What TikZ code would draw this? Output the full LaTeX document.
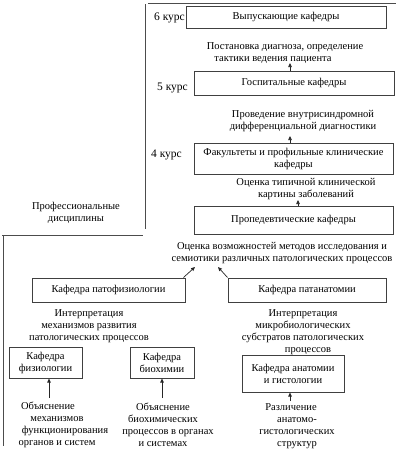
\documentclass[tikz,border=0pt]{standalone}
\usepackage{fontspec}
\setmainfont{Liberation Serif}
\usetikzlibrary{arrows.meta}
\begin{document}
\begin{tikzpicture}[x=1pt,y=-1pt,
  every node/.style={font=\fontsize{10.5}{12}\selectfont, inner sep=0pt},
  box/.style={draw=black!75, line width=1pt, align=center},
  lbl/.style={align=center},
  kurs/.style={anchor=east, font=\fontsize{11.5}{13}\selectfont},
  frame/.style={draw=black!70, line width=1pt},
  arr/.style={draw=black!85, line width=0.7pt, -{Triangle[length=4pt,width=3.5pt]}}]
\useasboundingbox (0,0) rectangle (402,450);

% frame lines
\draw[frame] (148,3) -- (396,3);
\draw[frame] (145,4) -- (145,229);
\draw[frame] (2,235) -- (143,235);
\draw[frame] (3,235) -- (3,446);

% boxes
\node[box, minimum width=200pt, minimum height=22pt] (vyp) at (286,17) {Выпускающие кафедры};
\node[box, minimum width=200pt, minimum height=24pt] (gosp) at (294,83) {Госпитальные кафедры};
\node[box, minimum width=199pt, minimum height=31pt] (fak) at (293.5,158.5) {Факультеты и профильные клинические\\кафедры};
\node[box, minimum width=199pt, minimum height=28pt] (prop) at (293.5,220) {\raisebox{1.5pt}{Пропедевтические кафедры}};
\node[box, minimum width=153pt, minimum height=24pt] (patfiz) at (108.5,290) {Кафедра патофизиологии};
\node[box, minimum width=158pt, minimum height=24pt] (patan) at (307,290) {Кафедра патанатомии};
\node[box, minimum width=73pt, minimum height=31pt] (fiz) at (45.5,362.5) {Кафедра\\физиологии};
\node[box, minimum width=64pt, minimum height=31pt] (bio) at (162,362.5) {Кафедра\\биохимии};
\node[box, minimum width=102pt, minimum height=37pt] (anat) at (293,373.5) {Кафедра анатомии\\и гистологии};

% course labels
\node[kurs] (k6) at (185,18) {6 курс};
\node[kurs] (k5) at (188,88) {5 курс};
\node[kurs] (k4) at (182,155) {4 курс};

% text labels
\node[lbl] (lpost) at (285,53.5) {Постановка диагноза, определение\\тактики ведения пациента\hspace*{24pt}};
\node[lbl] (lvnut) at (303,121) {Проведение внутрисиндромной\\дифференциальной диагностики};
\node[lbl] (ltip) at (306,189) {Оценка типичной клинической\\картины заболеваний};
\node[lbl] (lprof) at (76,213) {Профессиональные\\дисциплины};
\node[lbl] (locen) at (282,253) {Оценка возможностей методов исследования и\\семиотики различных патологических процессов};
\node[lbl] (lint1) at (89,326) {Интерпретация\\механизмов развития\\патологических процессов};
\node[lbl] (lint2) at (303,332) {Интерпретация\\микробиологических\\субстратов патологических\hspace*{24pt}\\\hspace*{10pt}процессов};
\node[lbl] (lobj1) at (57,425) {Объяснение\hspace*{18pt}\\механизмов\\\hspace*{16pt}функционирования\\органов и систем};
\node[lbl] (lobj2) at (163,425) {Объяснение\\биохимических\\\hspace*{10pt}процессов в органах\\и системах};
\node[lbl] (lraz) at (297,426) {Различение\hspace*{12pt}\\анатомо-\\гистологических\\структур};

% arrows
\coordinate (t1) at (290,63);
\draw[arr] (gosp.north -| t1) -- (t1);
\coordinate (t2) at (290,136);
\draw[arr] (fak.north -| t2) -- (t2);
\coordinate (t3) at (298,200);
\draw[arr] (prop.north -| t3) -- (t3);
\coordinate (t4) at (195,267);
\draw[arr] ([xshift=-2pt]patfiz.north east) -- (t4);
\coordinate (t5) at (218,267);
\draw[arr] (patan.north west) -- (t5);
\coordinate (b1) at (49,398);
\draw[arr] (b1) -- (b1 |- fiz.south);
\coordinate (b2) at (162,398);
\draw[arr] (b2) -- (b2 |- bio.south);
\coordinate (b3) at (290,401);
\draw[arr] (b3) -- (b3 |- anat.south);
\end{tikzpicture}
\end{document}
